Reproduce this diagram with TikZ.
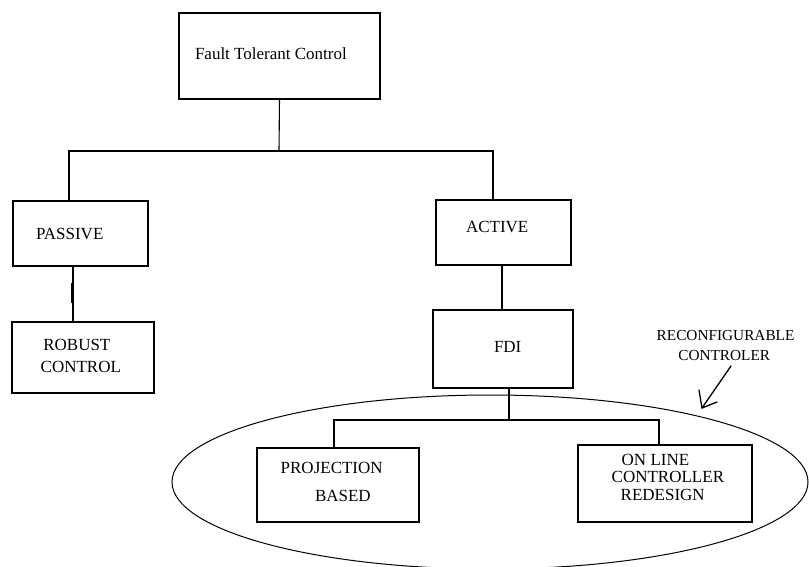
\documentclass[tikz,border=0pt]{standalone}
\usepackage{fontspec}
\setmainfont{Liberation Serif}
\usetikzlibrary{shapes.geometric,calc}

\tikzset{
  box/.style={draw, rectangle, inner sep=0pt, outer sep=0pt, line width=1.1pt},
  wire/.style={line width=1.1pt},
  txt/.style={inner sep=0pt, outer sep=0pt, anchor=base west, font=\fontsize{17}{20}\selectfont},
  smalltxt/.style={inner sep=0pt, outer sep=0pt, anchor=base west, font=\fontsize{15.3}{18}\selectfont},
  group/.style={draw, ellipse, inner sep=0pt, outer sep=0pt, line width=1pt},
}

\begin{document}
\begin{tikzpicture}[x=1pt, y=-1pt]
  \clip (0,0) rectangle (809,567);
  \fill[white] (0,0) rectangle (809,567);

  % boxes
  \node[box, minimum width=201pt, minimum height=86pt] (ftc)     at (279.5,56)  {};
  \node[box, minimum width=135pt, minimum height=65pt] (passive) at (80.5,233.5) {};
  \node[box, minimum width=142pt, minimum height=71pt] (robust)  at (83,357.5)  {};
  \node[box, minimum width=135pt, minimum height=65pt] (active)  at (503.5,232.5) {};
  \node[box, minimum width=140pt, minimum height=78pt] (fdi)     at (503,349)   {};
  \node[box, minimum width=162pt, minimum height=74pt] (proj)    at (338,485)   {};
  \node[box, minimum width=174pt, minimum height=77pt] (online)  at (665,483.5) {};

  % the reconfigurable part
  \node[group, minimum width=636pt, minimum height=174pt] (reconf) at (490,482) {};

  % texts
  \node[txt] (ftc-t)     at (195,60)    {Fault Tolerant Control};
  \node[txt] (passive-t) at (36,239)    {PASSIVE};
  \node[txt] (robust-a)  at (43.3,350)  {ROBUST};
  \node[txt] (robust-b)  at (40.7,372.5){CONTROL};
  \node[txt] (active-t)  at (466,232.7) {ACTIVE};
  \node[txt] (fdi-t)     at (494,352.3) {FDI};
  \node[txt] (proj-a)    at (280.7,473) {PROJECTION};
  \node[txt] (proj-b)    at (315,501.7) {BASED};
  \node[txt] (online-a)  at (621.7,465) {ON LINE};
  \node[txt] (online-b)  at (611.7,482.7){CONTROLLER};
  \node[txt] (online-c)  at (620.7,500) {REDESIGN};
  \node[smalltxt] (reconf-a) at (656.7,340.7) {RECONFIGURABLE};
  \node[smalltxt] (reconf-b) at (678.3,360)   {CONTROLER};

  % tree connectors
  \coordinate (bus) at (279,151);
  \draw[wire] (ftc.south) -- (bus);
  \draw[wire] ([xshift=-11.5pt]passive.north) |- (bus) -| ([xshift=-10.5pt]active.north);

  \coordinate (pa) at ([xshift=-7.5pt]passive.south);
  \coordinate (pb) at (pa |- robust.north);
  \draw[wire] (pa) -- (pb);
  \draw[line width=2.4pt] ($(pa)!0.30!(pb)+(-1,0)$) -- ($(pa)!0.66!(pb)+(-1,0)$);

  \coordinate (aa) at ([xshift=-1.5pt]active.south);
  \draw[wire] (aa) -- (aa |- fdi.north);

  \coordinate (split) at (509,420);
  \draw[wire] ([xshift=6pt]fdi.south) -- (split);
  \draw[wire] ([xshift=-4pt]proj.north) |- (split) -| ([xshift=-6pt]online.north);

  % hand-drawn pointer to the ellipse
  \coordinate (tail) at (731,366);
  \coordinate (tip)  at (702,408);
  \draw[line width=1.3pt, line cap=round, line join=round] (tail) -- (tip);
  \draw[line width=1.3pt, line cap=round, line join=round]
    ($(tip)+(-3,-18)$) -- (tip) -- ($(tip)+(15,-6)$);
\end{tikzpicture}
\end{document}
